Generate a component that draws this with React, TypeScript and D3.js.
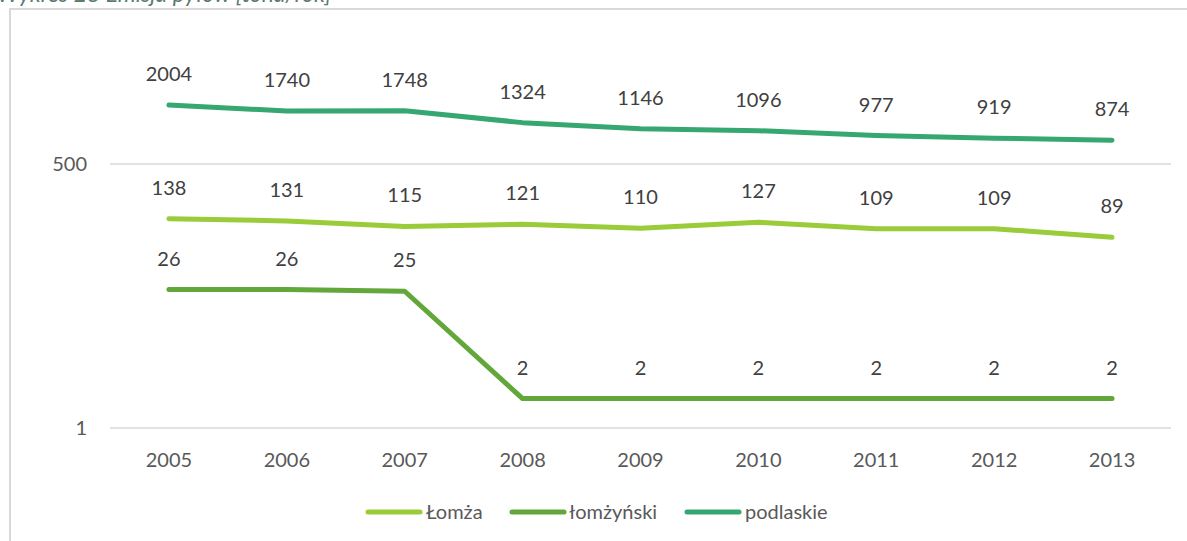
import React from "react";
import * as d3 from "d3";

const years = ["2005", "2006", "2007", "2008", "2009", "2010", "2011", "2012", "2013"];
const lomza = [138, 131, 115, 121, 110, 127, 109, 109, 89];
const lomzynski = [26, 26, 25, 2, 2, 2, 2, 2, 2];
const podlaskie = [2004, 1740, 1748, 1324, 1146, 1096, 977, 919, 874];
const seriesNames = ["Łomża", "łomżyński", "podlaskie"];
const seriesColors = ["#9ACB38", "#62A73A", "#36A771"];
const yTicks = [1, 500];
const title = "Wykres 28 Emisja pyłów [tona/rok]";

const W = 1187;
const H = 541;
const FONT = "Lato, 'Open Sans', sans-serif";

export default function App() {
  const x = d3.scalePoint<string>().domain(years).range([110, 1171]).padding(0.5);
  const y = d3.scaleLog().domain([1, 500]).range([428, 164]);
  const line = d3
    .line<number>()
    .x((_, i) => x(years[i]) as number)
    .y((d) => y(d));
  const series = [lomza, lomzynski, podlaskie];

  const legendItems = [
    { sx: 368, tx: 426 },
    { sx: 512, tx: 569 },
    { sx: 687, tx: 745 },
  ];

  return (
    <svg
      width={W}
      height={H}
      style={{ position: "absolute", left: 0, top: 0, display: "block", background: "#fff" }}
    >
      <text x={-3} y={2} fontFamily={FONT} fontStyle="italic" fontSize={23} fill="#5C7A6E">
        {title}
      </text>
      <rect x={10} y={9} width={1300} height={700} fill="none" stroke="#D9D9D9" strokeWidth={2} />
      {yTicks.map((t) => (
        <g key={t}>
          <line x1={110} x2={1171} y1={y(t)} y2={y(t)} stroke="#D9D9D9" strokeWidth={1.5} />
          <text x={87} y={y(t) + 7} textAnchor="end" fontFamily={FONT} fontSize={20} fill="#595959">
            {t}
          </text>
        </g>
      ))}
      {years.map((yr) => (
        <text
          key={yr}
          x={x(yr)}
          y={467}
          textAnchor="middle"
          fontFamily={FONT}
          fontSize={20}
          fill="#595959"
        >
          {yr}
        </text>
      ))}
      {series.map((s, si) => (
        <path
          key={si}
          d={line(s) || ""}
          fill="none"
          stroke={seriesColors[si]}
          strokeWidth={5}
          strokeLinecap="round"
          strokeLinejoin="round"
        />
      ))}
      {series.map((s, si) =>
        s.map((v, i) => (
          <text
            key={si + "-" + i}
            x={x(years[i])}
            y={y(v) - 24}
            textAnchor="middle"
            fontFamily={FONT}
            fontSize={20}
            fill="#404040"
          >
            {v}
          </text>
        ))
      )}
      {seriesNames.map((n, i) => (
        <g key={n}>
          <line
            x1={legendItems[i].sx}
            x2={legendItems[i].sx + 52}
            y1={512}
            y2={512}
            stroke={seriesColors[i]}
            strokeWidth={5}
            strokeLinecap="round"
          />
          <text x={legendItems[i].tx} y={519} fontFamily={FONT} fontSize={20} fill="#595959">
            {n}
          </text>
        </g>
      ))}
    </svg>
  );
}
